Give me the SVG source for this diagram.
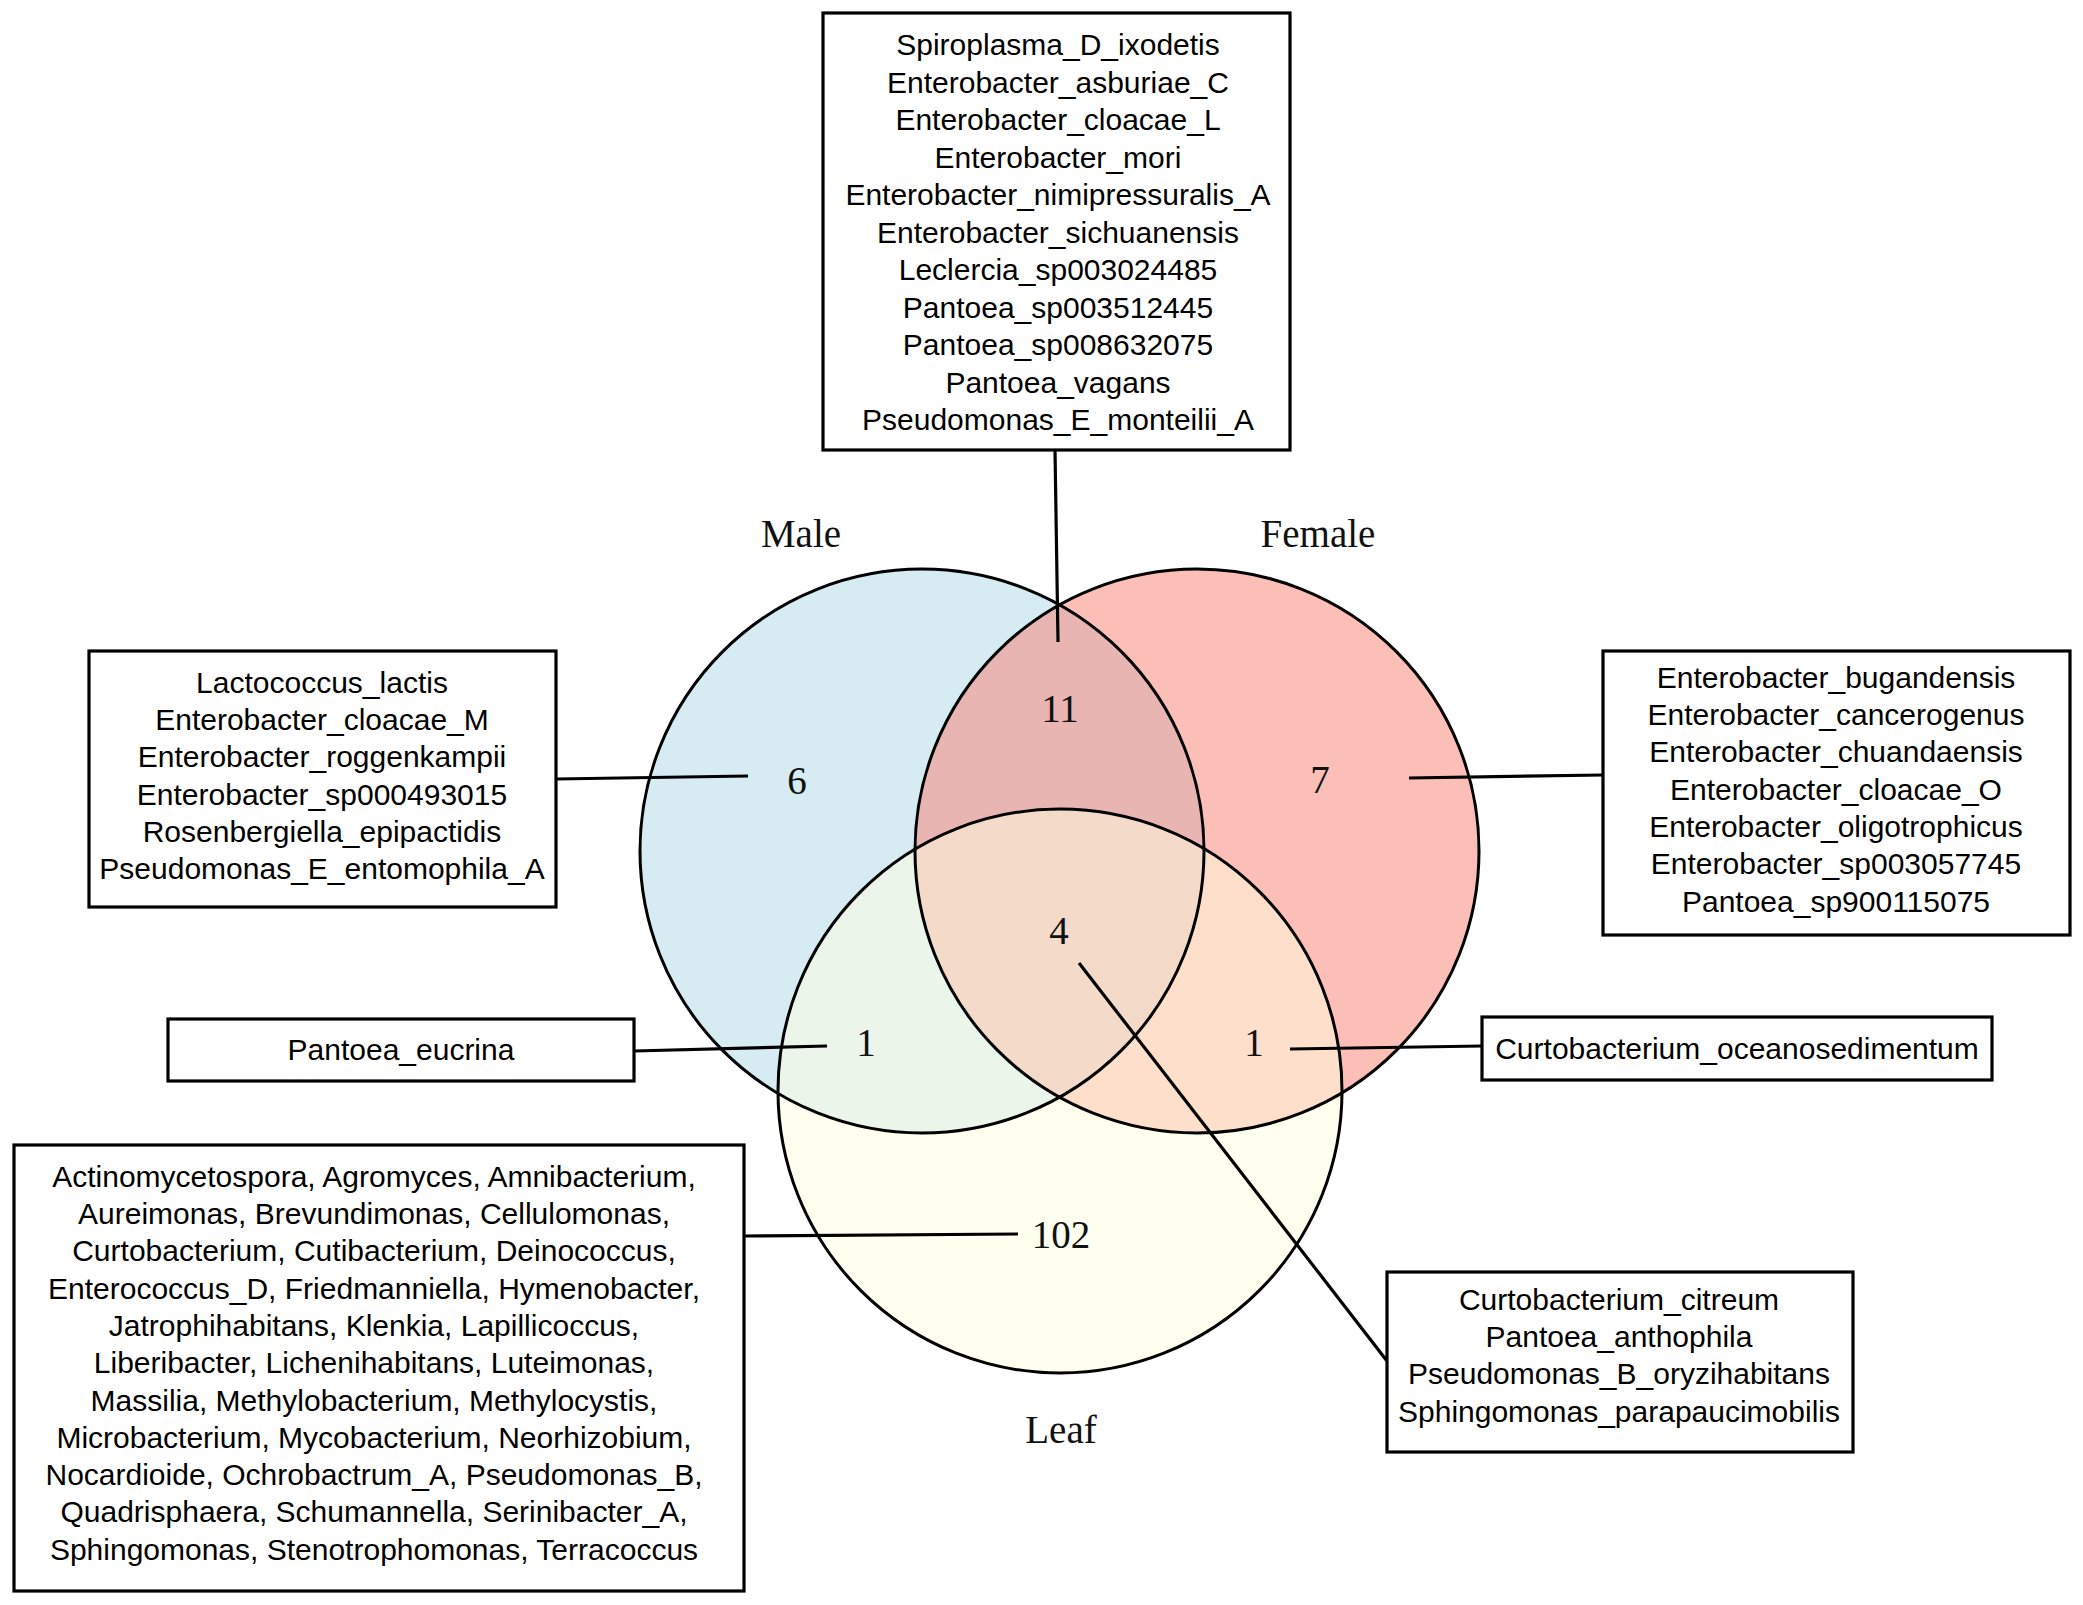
<svg xmlns="http://www.w3.org/2000/svg" width="2083" height="1605" viewBox="0 0 2083 1605">
<style>
.bg{fill:#ffffff}
.box{fill:#ffffff;stroke:#000;stroke-width:3.2}
.t{font-family:"Liberation Sans",Arial,Helvetica,sans-serif;font-size:30px;fill:#000;text-anchor:middle}
.n{font-family:"Liberation Serif","Times New Roman",serif;font-size:39px;fill:#111;text-anchor:middle}
.ring{fill:none;stroke:#000;stroke-width:3}
.c line{stroke:#000;stroke-width:3.2;stroke-linecap:butt}
</style>
<rect class="bg" x="0" y="0" width="2083" height="1605"/>
<g id="venn">
<circle id="male-fill" cx="922" cy="851" r="282" fill="#ADD8E6" fill-opacity="0.5"/>
<circle id="female-fill" cx="1197" cy="851" r="282" fill="#FA8072" fill-opacity="0.5"/>
<circle id="leaf-fill" cx="1060" cy="1091" r="282" fill="#FFFFE0" fill-opacity="0.5"/>
<circle class="ring" cx="922" cy="851" r="282"/>
<circle class="ring" cx="1197" cy="851" r="282"/>
<circle class="ring" cx="1060" cy="1091" r="282"/>
<text class="n" x="801" y="547">Male</text>
<text class="n" x="1318" y="547">Female</text>
<text class="n" x="1061" y="1443">Leaf</text>
<text class="n" x="797" y="794">6</text>
<text class="n" x="1320" y="793">7</text>
<text class="n" x="1060" y="722">11</text>
<text class="n" x="1059" y="944">4</text>
<text class="n" x="866" y="1056">1</text>
<text class="n" x="1254" y="1056">1</text>
<text class="n" x="1061" y="1248">102</text>
</g>
<g id="connectors" class="c">
<line x1="1055" y1="450" x2="1058" y2="642"/>
<line x1="556" y1="779" x2="748" y2="776"/>
<line x1="1409" y1="778" x2="1603" y2="775"/>
<line x1="634" y1="1051" x2="827" y2="1046"/>
<line x1="1290" y1="1049" x2="1482" y2="1046"/>
<line x1="744" y1="1236" x2="1018" y2="1234"/>
<line x1="1079" y1="963" x2="1387" y2="1361"/>
</g>
<g id="box-male-female">
<rect class="box" x="823" y="13" width="467" height="437"/>
<text class="t" x="1058" y="55">Spiroplasma_D_ixodetis</text>
<text class="t" x="1058" y="92.5">Enterobacter_asburiae_C</text>
<text class="t" x="1058" y="130">Enterobacter_cloacae_L</text>
<text class="t" x="1058" y="167.5">Enterobacter_mori</text>
<text class="t" x="1058" y="205">Enterobacter_nimipressuralis_A</text>
<text class="t" x="1058" y="242.5">Enterobacter_sichuanensis</text>
<text class="t" x="1058" y="280">Leclercia_sp003024485</text>
<text class="t" x="1058" y="317.5">Pantoea_sp003512445</text>
<text class="t" x="1058" y="355">Pantoea_sp008632075</text>
<text class="t" x="1058" y="392.5">Pantoea_vagans</text>
<text class="t" x="1058" y="430">Pseudomonas_E_monteilii_A</text>
</g>
<g id="box-male">
<rect class="box" x="89" y="651" width="467" height="256"/>
<text class="t" x="322" y="692.7">Lactococcus_lactis</text>
<text class="t" x="322" y="730">Enterobacter_cloacae_M</text>
<text class="t" x="322" y="767.3">Enterobacter_roggenkampii</text>
<text class="t" x="322" y="804.6">Enterobacter_sp000493015</text>
<text class="t" x="322" y="841.9">Rosenbergiella_epipactidis</text>
<text class="t" x="322" y="879.2">Pseudomonas_E_entomophila_A</text>
</g>
<g id="box-female">
<rect class="box" x="1603" y="651" width="467" height="284"/>
<text class="t" x="1836" y="687.7">Enterobacter_bugandensis</text>
<text class="t" x="1836" y="725">Enterobacter_cancerogenus</text>
<text class="t" x="1836" y="762.3">Enterobacter_chuandaensis</text>
<text class="t" x="1836" y="799.6">Enterobacter_cloacae_O</text>
<text class="t" x="1836" y="836.9">Enterobacter_oligotrophicus</text>
<text class="t" x="1836" y="874.2">Enterobacter_sp003057745</text>
<text class="t" x="1836" y="911.5">Pantoea_sp900115075</text>
</g>
<g id="box-male-leaf">
<rect class="box" x="168" y="1019" width="466" height="62"/>
<text class="t" x="401" y="1060">Pantoea_eucrina</text>
</g>
<g id="box-female-leaf">
<rect class="box" x="1482" y="1017" width="510" height="63"/>
<text class="t" x="1737" y="1059">Curtobacterium_oceanosedimentum</text>
</g>
<g id="box-leaf">
<rect class="box" x="14" y="1145" width="730" height="446"/>
<text class="t" x="374" y="1186.7">Actinomycetospora, Agromyces, Amnibacterium,</text>
<text class="t" x="374" y="1224">Aureimonas, Brevundimonas, Cellulomonas,</text>
<text class="t" x="374" y="1261.3">Curtobacterium, Cutibacterium, Deinococcus,</text>
<text class="t" x="374" y="1298.6">Enterococcus_D, Friedmanniella, Hymenobacter,</text>
<text class="t" x="374" y="1335.9">Jatrophihabitans, Klenkia, Lapillicoccus,</text>
<text class="t" x="374" y="1373.2">Liberibacter, Lichenihabitans, Luteimonas,</text>
<text class="t" x="374" y="1410.5">Massilia, Methylobacterium, Methylocystis,</text>
<text class="t" x="374" y="1447.8">Microbacterium, Mycobacterium, Neorhizobium,</text>
<text class="t" x="374" y="1485.1">Nocardioide, Ochrobactrum_A, Pseudomonas_B,</text>
<text class="t" x="374" y="1522.4">Quadrisphaera, Schumannella, Serinibacter_A,</text>
<text class="t" x="374" y="1559.7">Sphingomonas, Stenotrophomonas, Terracoccus</text>
</g>
<g id="box-all">
<rect class="box" x="1387" y="1272" width="466" height="180"/>
<text class="t" x="1619" y="1310">Curtobacterium_citreum</text>
<text class="t" x="1619" y="1347.2">Pantoea_anthophila</text>
<text class="t" x="1619" y="1384.4">Pseudomonas_B_oryzihabitans</text>
<text class="t" x="1619" y="1421.6">Sphingomonas_parapaucimobilis</text>
</g>
</svg>
